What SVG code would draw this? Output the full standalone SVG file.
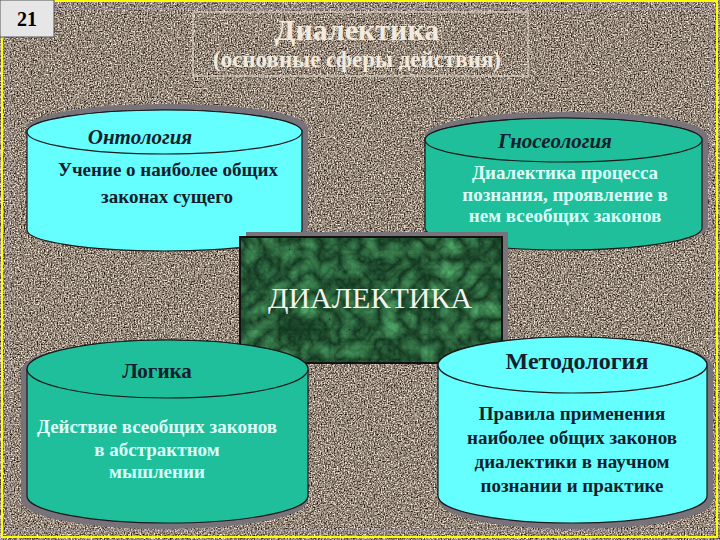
<svg xmlns="http://www.w3.org/2000/svg" width="720" height="540" viewBox="0 0 720 540">
  <defs>
    <filter id="granite" x="0" y="0" width="100%" height="100%" color-interpolation-filters="sRGB">
      <feTurbulence type="fractalNoise" baseFrequency="0.7" numOctaves="2" seed="4" result="n"/>
      <feColorMatrix in="n" type="matrix" values="1.5 0 0 0 -0.17  1.5 0 0 0 -0.22  1.5 0 0 0 -0.27  0 0 0 0 1"/>
    </filter>
    <filter id="marble" x="0" y="0" width="100%" height="100%" color-interpolation-filters="sRGB">
      <feTurbulence type="turbulence" baseFrequency="0.05" numOctaves="4" seed="7" result="t"/>
      <feColorMatrix in="t" type="matrix" values="0.3 0 0 0 0.06  0.55 0 0 0 0.19  0.35 0 0 0 0.11  0 0 0 0 1"/>
    </filter>
    <style>
      .serif { font-family: "Liberation Serif", "Times New Roman", serif; }
      .cyl-shadow { fill: #78727a; stroke: #78727a; stroke-width: 6; }
      .cyan { fill: #66ffff; stroke: #1a1a1a; stroke-width: 1.2; }
      .teal { fill: #1fbf9c; stroke: #1a1a1a; stroke-width: 1.2; }
      .ttl { font-weight: bold; text-anchor: middle; }
      .body { font-weight: bold; text-anchor: middle; font-size: 19px; }
      .dark { fill: #14202c; }
      .light { fill: #dcfff8; }
    </style>
  </defs>

  <!-- background -->
  <rect x="0" y="0" width="720" height="540" fill="#958a80"/>
  <rect x="0" y="0" width="720" height="540" filter="url(#granite)"/>
  <rect x="9" y="9" width="702" height="522" fill="none" stroke="#a898c8" stroke-width="1" opacity="0.7"/>
  <rect x="2" y="1" width="715" height="536" fill="none" stroke="#ffff00" stroke-width="2"/>

  <!-- page number -->
  <g id="page-number">
    <rect x="0" y="0" width="54" height="37" fill="#e6e6e6" stroke="#555" stroke-width="1"/>
    <text x="27" y="26" class="serif" font-size="20" font-weight="bold" text-anchor="middle" fill="#000">21</text>
  </g>

  <!-- title -->
  <g id="title">
    <rect x="193" y="12" width="335" height="64" fill="none" stroke="#eae2d2" stroke-width="1"/>
    <text x="357" y="40" class="serif" font-size="30" font-weight="bold" text-anchor="middle" fill="#f2eadc">Диалектика</text>
    <text x="357" y="67" class="serif" font-size="23" font-weight="bold" text-anchor="middle" fill="#f2eadc">(основные сферы действия)</text>
  </g>

  <!-- Ontology (top-left) -->
  <g id="ontology">
    <path class="cyl-shadow" transform="translate(3,-3)" d="M27,132 L27,230 A137.5,21 0 0 0 302,230 L302,132 A137.5,22 0 0 0 27,132 Z"/>
    <path class="cyan" d="M27,132 L27,230 A137.5,21 0 0 0 302,230 L302,132 A137.5,22 0 0 0 27,132 Z"/>
    <ellipse class="cyan" cx="164.5" cy="132" rx="137.5" ry="22"/>
    <text x="140" y="144" class="serif ttl dark" font-size="21" font-style="italic">Онтология</text>
    <text x="168" y="176" class="serif body dark">Учение о наиболее общих</text>
    <text x="167" y="203" class="serif body dark">законах сущего</text>
  </g>

  <!-- Gnoseology (top-right) -->
  <g id="gnoseology">
    <path class="cyl-shadow" transform="translate(3,-3)" d="M425,140 L425,228 A138.5,22 0 0 0 702,228 L702,140 A138.5,22 0 0 0 425,140 Z"/>
    <path class="teal" d="M425,140 L425,228 A138.5,22 0 0 0 702,228 L702,140 A138.5,22 0 0 0 425,140 Z"/>
    <ellipse class="teal" cx="563.5" cy="140" rx="138.5" ry="22"/>
    <text x="555" y="148" class="serif ttl dark" font-size="21" font-style="italic">Гносеология</text>
    <text x="565" y="179" class="serif body light" font-size="17.5">Диалектика процесса</text>
    <text x="565" y="201" class="serif body light" font-size="17.5">познания, проявление в</text>
    <text x="565" y="222" class="serif body light" font-size="17.5">нем всеобщих законов</text>
  </g>

  <!-- Central box -->
  <g id="dialectics">
    <rect x="246" y="232" width="262" height="128" fill="#78727a"/>
    <rect x="240" y="237" width="262" height="126" filter="url(#marble)"/>
    <rect x="240" y="237" width="262" height="126" fill="none" stroke="#111" stroke-width="2"/>
    <text x="370" y="308" class="serif" font-size="30" text-anchor="middle" fill="#f4f4ec">ДИАЛЕКТИКА</text>
  </g>

  <!-- Logic (bottom-left) -->
  <g id="logic">
    <path class="cyl-shadow" transform="translate(-3,3)" d="M27,369 L27,496 A140.5,27 0 0 0 308,496 L308,369 A140.5,29 0 0 0 27,369 Z"/>
    <path class="teal" d="M27,369 L27,496 A140.5,27 0 0 0 308,496 L308,369 A140.5,29 0 0 0 27,369 Z"/>
    <ellipse class="teal" cx="167.5" cy="369" rx="140.5" ry="29"/>
    <text x="157" y="378" class="serif ttl dark" font-size="21">Логика</text>
    <text x="157" y="433" class="serif body light">Действие всеобщих законов</text>
    <text x="157" y="456" class="serif body light">в абстрактном</text>
    <text x="157" y="478" class="serif body light">мышлении</text>
  </g>

  <!-- Methodology (bottom-right) -->
  <g id="methodology">
    <path class="cyl-shadow" transform="translate(3,3)" d="M438,365 L438,496 A134.5,27 0 0 0 707,496 L707,365 A134.5,28 0 0 0 438,365 Z"/>
    <path class="cyan" d="M438,365 L438,496 A134.5,27 0 0 0 707,496 L707,365 A134.5,28 0 0 0 438,365 Z"/>
    <ellipse class="cyan" cx="572.5" cy="365" rx="134.5" ry="28"/>
    <text x="577" y="369" class="serif ttl dark" font-size="24">Методология</text>
    <text x="572" y="420" class="serif body dark">Правила применения</text>
    <text x="572" y="444" class="serif body dark">наиболее общих законов</text>
    <text x="572" y="468" class="serif body dark">диалектики в научном</text>
    <text x="572" y="492" class="serif body dark">познании и практике</text>
  </g>
</svg>
